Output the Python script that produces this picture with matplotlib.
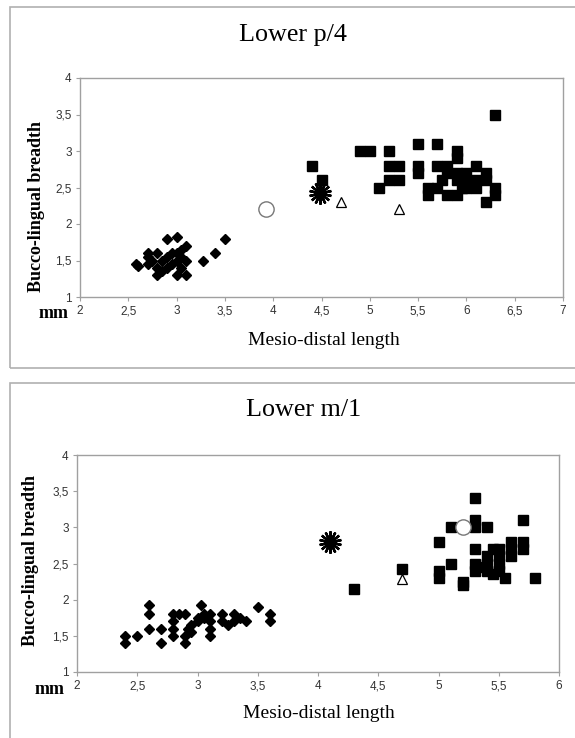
import numpy as np
import matplotlib
matplotlib.use("Agg")
import matplotlib.pyplot as plt
from matplotlib.patches import Rectangle

# Lower p/4
p4_diamond_x = [2.58, 2.6, 2.7, 2.7, 2.7, 2.75, 2.8, 2.8, 2.8, 2.85, 2.85, 2.9, 2.9, 2.9,
                2.95, 2.95, 3.0, 3.0, 3.0, 3.0, 3.05, 3.05, 3.05, 3.1, 3.1, 3.1, 3.27, 3.4, 3.5]
p4_diamond_y = [1.45, 1.42, 1.55, 1.6, 1.45, 1.5, 1.6, 1.4, 1.3, 1.35, 1.5, 1.8, 1.55, 1.4,
                1.6, 1.45, 1.82, 1.5, 1.3, 1.6, 1.55, 1.65, 1.4, 1.7, 1.3, 1.5, 1.5, 1.6, 1.8]
p4_square_x = [4.4, 4.5, 4.9, 5.0, 5.1, 5.2, 5.2, 5.2, 5.3, 5.3, 5.5, 5.5, 5.5, 5.6, 5.6,
               5.7, 5.7, 5.7, 5.8, 5.8, 5.8, 5.75, 5.9, 5.9, 5.9, 5.9, 5.9, 5.95,
               6.0, 6.0, 6.0, 6.1, 6.1, 6.1, 6.2, 6.2, 6.2, 6.3, 6.3, 6.3]
p4_square_y = [2.8, 2.6, 3.0, 3.0, 2.5, 3.0, 2.8, 2.6, 2.8, 2.6, 3.1, 2.8, 2.7, 2.4, 2.5,
               3.1, 2.8, 2.5, 2.8, 2.7, 2.4, 2.6, 3.0, 2.9, 2.7, 2.6, 2.4, 2.5,
               2.7, 2.6, 2.5, 2.8, 2.6, 2.5, 2.7, 2.6, 2.3, 2.5, 2.4, 3.5]
p4_circle = (3.93, 2.2)
p4_star = (4.48, 2.43)
p4_tri_x = [4.7, 5.3]
p4_tri_y = [2.3, 2.2]

# Lower m/1
m1_diamond_x = [2.4, 2.4, 2.5, 2.6, 2.6, 2.6, 2.7, 2.7, 2.8, 2.8, 2.8, 2.8, 2.85, 2.9, 2.9,
                2.9, 2.92, 2.95, 2.95, 3.0, 3.0, 3.03, 3.05, 3.05, 3.1, 3.1, 3.1, 3.1,
                3.2, 3.2, 3.25, 3.3, 3.3, 3.35, 3.4, 3.5, 3.6, 3.6]
m1_diamond_y = [1.5, 1.4, 1.5, 1.92, 1.8, 1.6, 1.6, 1.4, 1.8, 1.7, 1.6, 1.5, 1.8, 1.8, 1.5,
                1.4, 1.6, 1.55, 1.65, 1.75, 1.7, 1.92, 1.8, 1.75, 1.8, 1.7, 1.6, 1.5,
                1.8, 1.7, 1.65, 1.8, 1.7, 1.75, 1.7, 1.9, 1.8, 1.7]
m1_square_x = [4.3, 4.7, 5.0, 5.0, 5.0, 5.1, 5.1, 5.2, 5.2, 5.3, 5.3, 5.3, 5.3, 5.3, 5.3,
               5.35, 5.4, 5.4, 5.4, 5.4, 5.45, 5.45, 5.5, 5.5, 5.5, 5.5, 5.55,
               5.6, 5.6, 5.6, 5.7, 5.7, 5.7, 5.8]
m1_square_y = [2.15, 2.42, 2.8, 2.4, 2.3, 3.0, 2.5, 2.25, 2.2, 3.4, 3.1, 3.0, 2.7, 2.5, 2.4,
               2.45, 3.0, 2.6, 2.5, 2.4, 2.7, 2.35, 2.7, 2.6, 2.5, 2.4, 2.3,
               2.8, 2.7, 2.6, 3.1, 2.8, 2.7, 2.3]
m1_circle = (5.2, 3.0)
m1_star = (4.1, 2.8)
m1_tri_x = [4.7]
m1_tri_y = [2.28]

serif = "Liberation Serif"
sans = "Liberation Sans"
W, H = 575, 738

fig = plt.figure(figsize=(5.75, 7.38), dpi=100)

# gray panel frames
fig.patches.append(Rectangle((10 / W, 1 - 368 / H), 1.2, 361 / H, transform=fig.transFigure,
                             fill=False, edgecolor="#b0b0b0", lw=1.2))
fig.patches.append(Rectangle((10 / W, -0.1), 1.2, 0.1 + 355 / H, transform=fig.transFigure,
                             fill=False, edgecolor="#b0b0b0", lw=1.2))


def draw_panel(rect, xlim, xticks, dx, dy, sx, sy, cx, cy, star, tx, ty):
    ax = fig.add_axes(rect)
    ax.plot(dx, dy, "D", color="black", markersize=5, zorder=3)
    ax.plot(sx, sy, "s", color="black", markersize=7.2, zorder=3)
    ax.plot(cx, cy, "o", mfc="white", mec="#777777", markersize=11, mew=1, zorder=4)
    ax.plot(star[0], star[1], marker=(14, 2, 0), color="black", markersize=16, mew=1.7, zorder=4)
    ax.plot(tx, ty, "^", mfc="white", mec="black", markersize=6.5, mew=0.9, zorder=4)
    ax.set_xlim(*xlim)
    ax.set_ylim(1, 4)
    ax.set_xticks(xticks)
    yt = np.arange(1, 4.01, 0.5)
    ax.set_yticks(yt)
    ax.set_xticklabels([f"{v:g}".replace(".", ",") for v in xticks], fontfamily=sans, fontsize=8.5, color="#333333")
    ax.set_yticklabels([f"{v:g}".replace(".", ",") for v in yt], fontfamily=sans, fontsize=8.5, color="#333333")
    for s in ax.spines.values():
        s.set_color("#a0a0a0")
        s.set_linewidth(1)
    ax.tick_params(length=3, color="#a0a0a0", pad=3)
    return ax


draw_panel([80 / W, 1 - 297 / H, 483 / W, 219 / H], (2, 7), np.arange(2, 7.01, 0.5),
           p4_diamond_x, p4_diamond_y, p4_square_x, p4_square_y,
           p4_circle[0], p4_circle[1], p4_star, p4_tri_x, p4_tri_y)
draw_panel([77 / W, 1 - 672 / H, 482 / W, 217 / H], (2, 6), np.arange(2, 6.01, 0.5),
           m1_diamond_x, m1_diamond_y, m1_square_x, m1_square_y,
           m1_circle[0], m1_circle[1], m1_star, m1_tri_x, m1_tri_y)

# titles and labels
fig.text(293 / W, 1 - 35 / H, "Lower p/4", ha="center", va="center", fontfamily=serif, fontsize=18.8)
fig.text(324 / W, 1 - 340 / H, "Mesio-distal length", ha="center", va="center", fontfamily=serif, fontsize=14)
fig.text(37 / W, 1 - 207 / H, "Bucco-lingual breadth", ha="center", va="center", rotation=90,
         fontfamily=serif, fontsize=13, fontweight="bold")
fig.text(54 / W, 1 - 313 / H, "mm", ha="center", va="center", fontfamily=serif, fontsize=13,
         fontweight="bold")

fig.text(304 / W, 1 - 410 / H, "Lower m/1", ha="center", va="center", fontfamily=serif, fontsize=18.8)
fig.text(319 / W, 1 - 713 / H, "Mesio-distal length", ha="center", va="center", fontfamily=serif, fontsize=14)
fig.text(31 / W, 1 - 560 / H, "Bucco-lingual breadth", ha="center", va="center", rotation=90,
         fontfamily=serif, fontsize=13, fontweight="bold")
fig.text(50 / W, 1 - 690 / H, "mm", ha="center", va="center", fontfamily=serif, fontsize=13,
         fontweight="bold")

fig.savefig("out.png", dpi=100)
